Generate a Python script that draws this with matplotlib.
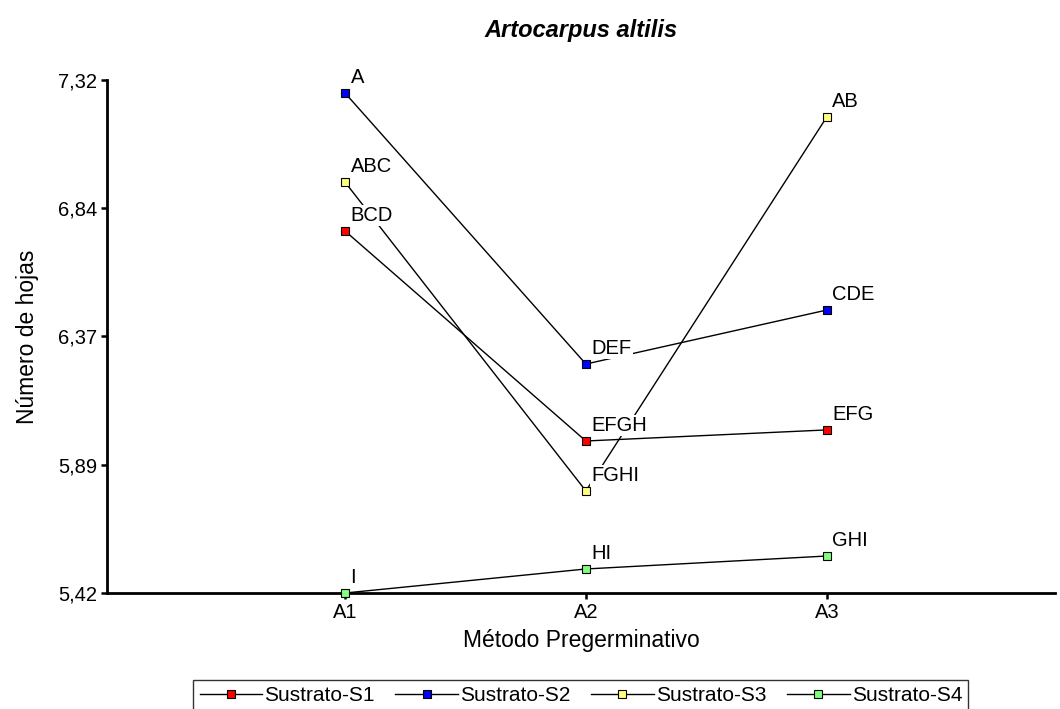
import numpy as np
import matplotlib
matplotlib.use('Agg')
import matplotlib.pyplot as plt
from matplotlib import font_manager

# Número de hojas por método pregerminativo y sustrato
metodos = ['A1', 'A2', 'A3']
s1 = [6.761, 5.983, 6.024]
s2 = [7.272, 6.268, 6.468]
s3 = [6.942, 5.798, 7.183]
s4 = [5.420, 5.509, 5.557]

# letras de Tukey para cada punto
letras_s1 = ['BCD', 'EFGH', 'EFG']
letras_s2 = ['A', 'DEF', 'CDE']
letras_s3 = ['ABC', 'FGHI', 'AB']
letras_s4 = ['I', 'HI', 'GHI']

nombres = ['Sustrato-S1', 'Sustrato-S2', 'Sustrato-S3', 'Sustrato-S4']
colores = ['#ff0000', '#0000ff', '#ffff80', '#80ff80']

yticks = [5.42, 5.895, 6.37, 6.845, 7.32]
ytick_labels = ['5,42', '5,89', '6,37', '6,84', '7,32']

plt.rcParams['font.family'] = ['Liberation Sans', 'DejaVu Sans']

# fuente estrecha para la leyenda si existe
try:
    font_manager.findfont(font_manager.FontProperties(family='Liberation Sans Narrow'),
                          fallback_to_default=False)
    leg_prop = {'family': 'Liberation Sans Narrow', 'size': 17}
except Exception:
    leg_prop = {'family': 'Liberation Sans', 'size': 15}

fig = plt.figure(figsize=(10.6, 7.09), dpi=100)
ax = fig.add_axes([0.101, 0.1636, 0.894, 0.7236])

x = np.arange(1, len(metodos) + 1)
series = [s1, s2, s3, s4]
letras = [letras_s1, letras_s2, letras_s3, letras_s4]

for vals, lets, col, nom in zip(series, letras, colores, nombres):
    ax.plot(x, vals, color='black', lw=1.0, marker='s', markersize=5.5,
            markerfacecolor=col, markeredgecolor='black', markeredgewidth=0.8,
            label=nom, zorder=3, clip_on=False)
    for xi, yi, t in zip(x, vals, lets):
        ax.annotate(t, (xi, yi), xytext=(4, 4), textcoords='offset points',
                    ha='left', va='bottom', fontsize=14.5, zorder=4,
                    bbox=dict(boxstyle='square,pad=0.05', fc='white', ec='none'))

ax.set_xlim(0.0125, 3.946)
ax.set_ylim(5.42, 7.32)
ax.set_xticks(x)
ax.set_xticklabels(metodos, fontsize=14.5)
ax.set_yticks(yticks)
ax.set_yticklabels(ytick_labels, fontsize=14.5)

for s in ['top', 'right']:
    ax.spines[s].set_visible(False)
for s in ['left', 'bottom']:
    ax.spines[s].set_linewidth(2.0)
ax.tick_params(axis='both', direction='out', length=4, width=1.8, pad=3)

ax.set_xlabel('Método Pregerminativo', fontsize=16.5, labelpad=5)
ax.set_ylabel('Número de hojas', fontsize=16.5, labelpad=14)
ax.set_title('Artocarpus altilis', fontsize=17, fontweight='bold',
             fontstyle='italic', pad=31)

leg = fig.legend(loc='upper center', bbox_to_anchor=(0.548, 0.041), ncol=4,
                 frameon=True, fancybox=False, edgecolor='black', prop=leg_prop,
                 handlelength=3.0, handletextpad=0.1, columnspacing=1.0,
                 borderpad=0.3, borderaxespad=0.0)
leg.get_frame().set_linewidth(1.0)

fig.savefig('out.png', dpi=100)
